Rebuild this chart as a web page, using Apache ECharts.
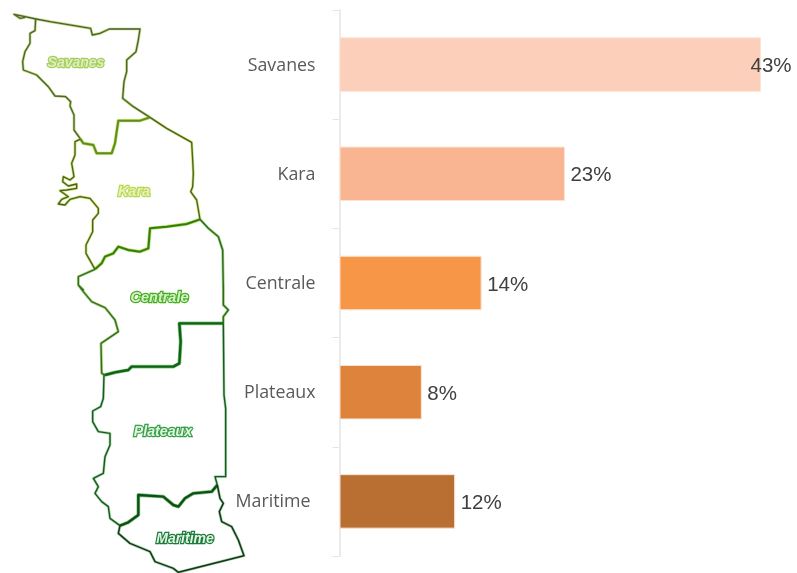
<!DOCTYPE html>
<html>
<head>
<meta charset="utf-8">
<title>Togo</title>
<script src="https://cdn.jsdelivr.net/npm/echarts@6/dist/echarts.min.js"></script>
<style>
  html, body { margin: 0; padding: 0; background: #fff; }
  #chart { width: 797px; height: 573px; }
</style>
</head>
<body>
<div id="chart"></div>
<script>
var regions = ['Savanes', 'Kara', 'Centrale', 'Plateaux', 'Maritime']
var values = [43, 23, 14.5, 8.4, 11.8]
var valueLabels = ['43%', '23%', '14%', '8%', '12%']
var barColors = ['#FBCFB9', '#F9B591', '#F79646', '#DE833C', '#B86F31']

// map outline (3x units, see up() and low() below)
var up = function (pts) { return pts.map(function (p) { return [p[0] / 3, p[1] / 3] }) }
var low = function (pts) { return pts.map(function (p) { return [p[0] / 3 + 60, p[1] / 3 + 285] }) }

var borders = [
  // outer edges of Savanes
  { color: '#4f5f3c', halo: '#a8d048', width: 1.3, pts: up([[240,415],[222,390],[222,345],[210,318],[212,305],[197,290],[165,288],[145,260],[110,225],[70,210],[68,185],[75,155],[90,130],[90,100],[105,92],[107,57]]) },
  { color: '#4f5f3c', halo: '#a8d048', width: 1.3, pts: up([[75,52],[60,55],[42,43],[75,50],[108,57],[150,65],[200,73],[272,85],[277,105],[300,100],[328,87],[420,87],[415,120],[408,155],[380,180],[380,215],[372,245],[368,295],[400,320],[450,352]]) },
  // Savanes / Kara
  { color: '#5c8f1c', halo: '#b5d84a', width: 2, pts: up([[450,352],[420,362],[355,362],[350,395],[345,430],[335,460],[290,460],[280,435],[250,430],[240,415]]) },
  // Kara outer edges
  { color: '#4a5c34', halo: '#b7dc2a', width: 1.3, pts: up([[450,352],[500,385],[575,427],[578,480],[580,520],[578,560],[572,575],[590,600],[600,658]]) },
  { color: '#4a5c34', halo: '#b7dc2a', width: 1.3, pts: up([[285,808],[275,790],[258,760],[258,735],[278,695],[278,660],[295,640],[295,625],[270,595],[240,590],[210,598],[195,615],[175,612],[185,598],[205,590],[180,572],[200,570],[230,565],[230,552],[205,558],[188,545],[190,530],[210,540],[222,530],[215,490],[225,465],[225,425],[240,418]]) },
  // Kara / Centrale
  { color: '#2f7f12', halo: '#a6d22c', width: 2, pts: up([[600,658],[560,672],[500,680],[450,685],[445,745],[420,755],[385,750],[355,740],[340,760],[315,770],[305,790],[285,808]]) },
  // Centrale outer edges
  { color: '#2c6b22', halo: '#86c45a', width: 1.4, pts: up([[600,658],[625,685],[655,710],[668,750],[670,870]]).concat(low([[490,0],[490,60],[505,75],[490,95],[490,115]])) },
  { color: '#3b6b2c', halo: '#8ccc4c', width: 1.4, pts: low([[135,270],[125,265],[123,175],[175,140],[165,105],[145,80],[135,68],[95,50],[70,20],[55,0]]).concat(up([[250,870],[235,855],[235,830],[285,808]])) },
  // Centrale / Plateaux
  { color: '#0c6410', halo: '#6fb56f', width: 2.4, pts: low([[490,115],[358,115],[362,170],[358,235],[340,245],[215,245],[205,255],[165,262],[135,270]]) },
  // Plateaux outer edges
  { color: '#125c1c', halo: '#9ccc9c', width: 1.4, pts: low([[490,115],[492,330],[497,370],[497,575],[465,575],[472,600]]) },
  { color: '#125c1c', halo: '#9ccc9c', width: 1.4, pts: low([[180,722],[150,700],[145,665],[125,650],[105,625],[115,605],[100,580],[130,565],[135,515],[150,480],[150,445],[115,440],[98,410],[98,378],[122,365],[130,340],[132,270]]) },
  // Plateaux / Maritime
  { color: '#0a5210', halo: '#7ab87a', width: 2.4, pts: low([[472,600],[455,620],[400,625],[375,640],[355,665],[340,660],[310,635],[235,630],[235,690],[205,712],[180,722]]) },
  // Maritime outer edges
  { color: '#0f3a16', halo: '#9cc09c', width: 1.5, pts: low([[472,600],[480,640],[490,655],[478,680],[485,710],[515,725],[535,765],[552,812],[355,862],[340,850],[285,830],[270,800],[210,775],[175,745],[180,722]]) }
]

var mapLabels = [
  { text: 'Savanes', x: 76, y: 63, size: 14, fill: '#dfeec0', stroke: '#a4cf5a' },
  { text: 'Kara', x: 134, y: 192, size: 14.5, fill: '#e6f2b8', stroke: '#b8d850' },
  { text: 'Centrale', x: 159.5, y: 298, size: 14.5, fill: '#d8f2c8', stroke: '#46ae22' },
  { text: 'Plateaux', x: 163, y: 432, size: 14.2, fill: '#e4f4e4', stroke: '#35a045' },
  { text: 'Maritime', x: 185, y: 539, size: 14, fill: '#e4f4e4', stroke: '#1c7a3c' }
]

var graphics = []
borders.forEach(function (b) {
  graphics.push({ type: 'polyline', silent: true, z: 10, shape: { points: b.pts }, style: { fill: null, stroke: b.halo, lineWidth: b.width + 1.4, lineJoin: 'round', opacity: 0.8 } })
})
borders.forEach(function (b) {
  graphics.push({ type: 'polyline', silent: true, z: 11, shape: { points: b.pts }, style: { fill: null, stroke: b.color, lineWidth: b.width, lineJoin: 'round' } })
})
mapLabels.forEach(function (l) {
  graphics.push({
    type: 'text', silent: true, z: 12, x: l.x, y: l.y,
    style: {
      text: l.text, fill: l.fill, stroke: l.stroke, lineWidth: 2.4,
      font: 'italic bold ' + l.size + 'px "Liberation Sans"', align: 'center', verticalAlign: 'middle'
    }
  })
})

var chart = echarts.init(document.getElementById('chart'))
chart.setOption({
  animation: false,
  backgroundColor: '#fff',
  graphic: graphics,
  grid: { left: 339.5, top: 10, width: 421.5, height: 546 },
  xAxis: { type: 'value', min: 0, max: 43, show: false },
  yAxis: {
    type: 'category',
    inverse: true,
    data: regions,
    axisLine: { show: true, lineStyle: { color: '#e4e4e4', width: 1.5 } },
    axisTick: { show: true, length: 7, lineStyle: { color: '#e4e4e4' } },
    axisLabel: {
      color: '#595959',
      fontFamily: 'Open Sans',
      fontSize: 17.8,
      margin: 24,
      padding: [2, 0, 0, 0],
      // Maritime sits a little further left than the others
      formatter: function (v) { return v === 'Maritime' ? '{m|' + v + '}' : v },
      rich: { m: { color: '#595959', fontFamily: 'Open Sans', fontSize: 17.8, padding: [0, 5, 0, 0] } }
    }
  },
  series: [{
    type: 'bar',
    barWidth: 54.5,
    data: values.map(function (v, i) {
      return {
        value: v,
        itemStyle: { color: barColors[i], borderColor: '#FBE3D5', borderWidth: 1 },
        label: { distance: i === 0 ? -11 : 5 }
      }
    }),
    label: {
      show: true,
      position: 'right',
      color: '#404040',
      fontFamily: 'Liberation Sans',
      fontSize: 20.5,
      offset: [0.5, 2],
      formatter: function (p) { return valueLabels[p.dataIndex] }
    }
  }]
})
</script>
</body>
</html>
